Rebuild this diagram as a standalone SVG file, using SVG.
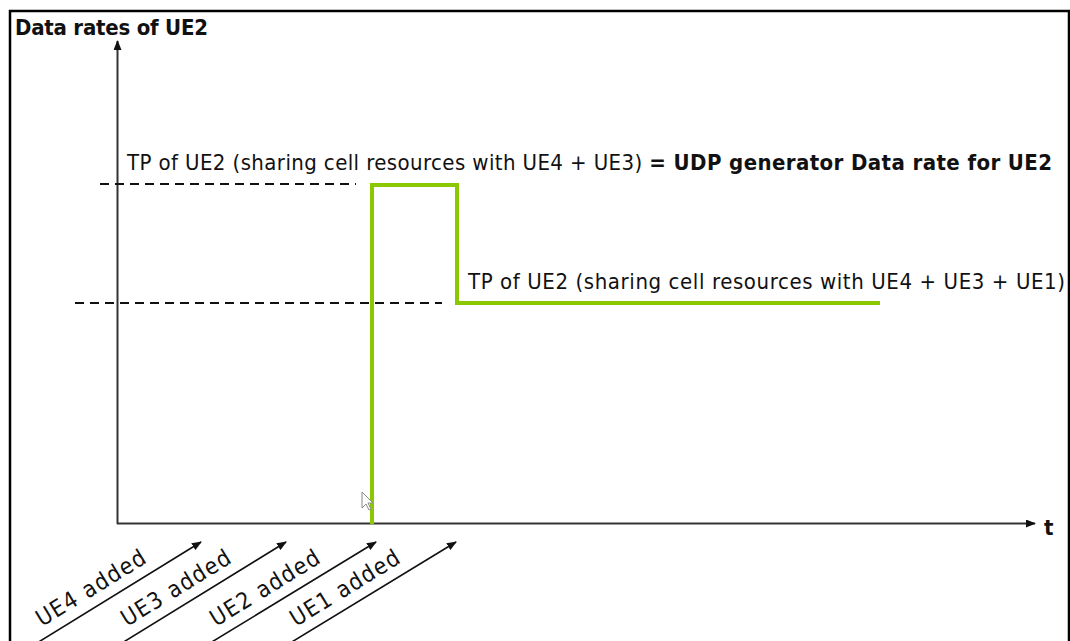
<svg xmlns="http://www.w3.org/2000/svg" width="1070" height="641" viewBox="0 0 1070 641">
<style>
.txt{font-family:"DejaVu Sans Condensed","DejaVu Sans",sans-serif;font-size:22px;fill:#111}
.ev{font-size:23px}
.b{font-weight:bold}
.axis{stroke:#333;stroke-width:2;fill:none}
.dash{stroke:#111;stroke-width:1.8;stroke-dasharray:9 6;fill:none}
.diag{stroke:#111;stroke-width:1.6;fill:none}
.green{stroke:#8cc800;stroke-width:4;fill:none;stroke-linejoin:miter}
</style>
<defs>
<marker id="ah" viewBox="0 0 10 8" refX="9" refY="4" markerWidth="10" markerHeight="8" markerUnits="userSpaceOnUse" orient="auto">
<path d="M0,0 L10,4 L0,8 Z" fill="#111"/>
</marker>
</defs>
<rect x="0" y="0" width="1070" height="641" fill="#fff"/>
<path d="M10,660 L10,11 L1069,11 L1069,660" fill="none" stroke="#000" stroke-width="2.5"/>

<g id="axes">
<line class="axis" x1="117.5" y1="524" x2="117.5" y2="41" marker-end="url(#ah)"/>
<line class="axis" x1="117" y1="523.5" x2="1035" y2="523.5" marker-end="url(#ah)"/>
<text class="txt b" x="15" y="35" font-size="20" textLength="193">Data rates of UE2</text>
<text class="txt b" x="1044" y="535">t</text>
</g>

<g id="levels">
<line class="dash" x1="100" y1="184" x2="356" y2="184"/>
<line class="dash" x1="75" y1="303" x2="442" y2="303"/>
</g>

<g id="curve">
<path class="green" d="M372,524 L372,185 L457,185 L457,303 L880,303"/>
</g>

<g id="label-top">
<text class="txt" x="127" y="170" textLength="925">TP of UE2 (sharing cell resources with UE4 + UE3) <tspan class="b">= UDP generator Data rate for UE2</tspan></text>
</g>
<g id="label-bottom">
<text class="txt" x="468" y="289" textLength="597">TP of UE2 (sharing cell resources with UE4 + UE3 + UE1)</text>
</g>

<g id="connectors">
<line class="diag" x1="24" y1="651" x2="201" y2="542" marker-end="url(#ah)"/>
<line class="diag" x1="109" y1="651" x2="286" y2="542" marker-end="url(#ah)"/>
<line class="diag" x1="197" y1="651" x2="376" y2="542" marker-end="url(#ah)"/>
<line class="diag" x1="277" y1="651" x2="456" y2="542" marker-end="url(#ah)"/>
</g>

<g id="events">
<text class="txt ev" transform="translate(42,627) rotate(-31.5)" textLength="124">UE4 added</text>
<text class="txt ev" transform="translate(127,627) rotate(-31.5)" textLength="124">UE3 added</text>
<text class="txt ev" transform="translate(216,627) rotate(-31.5)" textLength="124">UE2 added</text>
<text class="txt ev" transform="translate(296,627) rotate(-31.5)" textLength="124">UE1 added</text>
</g>

<g id="cursor">
<path d="M362,492 L362,508 L366,504 L369,510 L371,509 L368,503 L373,503 Z" fill="#fff" stroke="#888" stroke-width="1"/>
</g>
</svg>
